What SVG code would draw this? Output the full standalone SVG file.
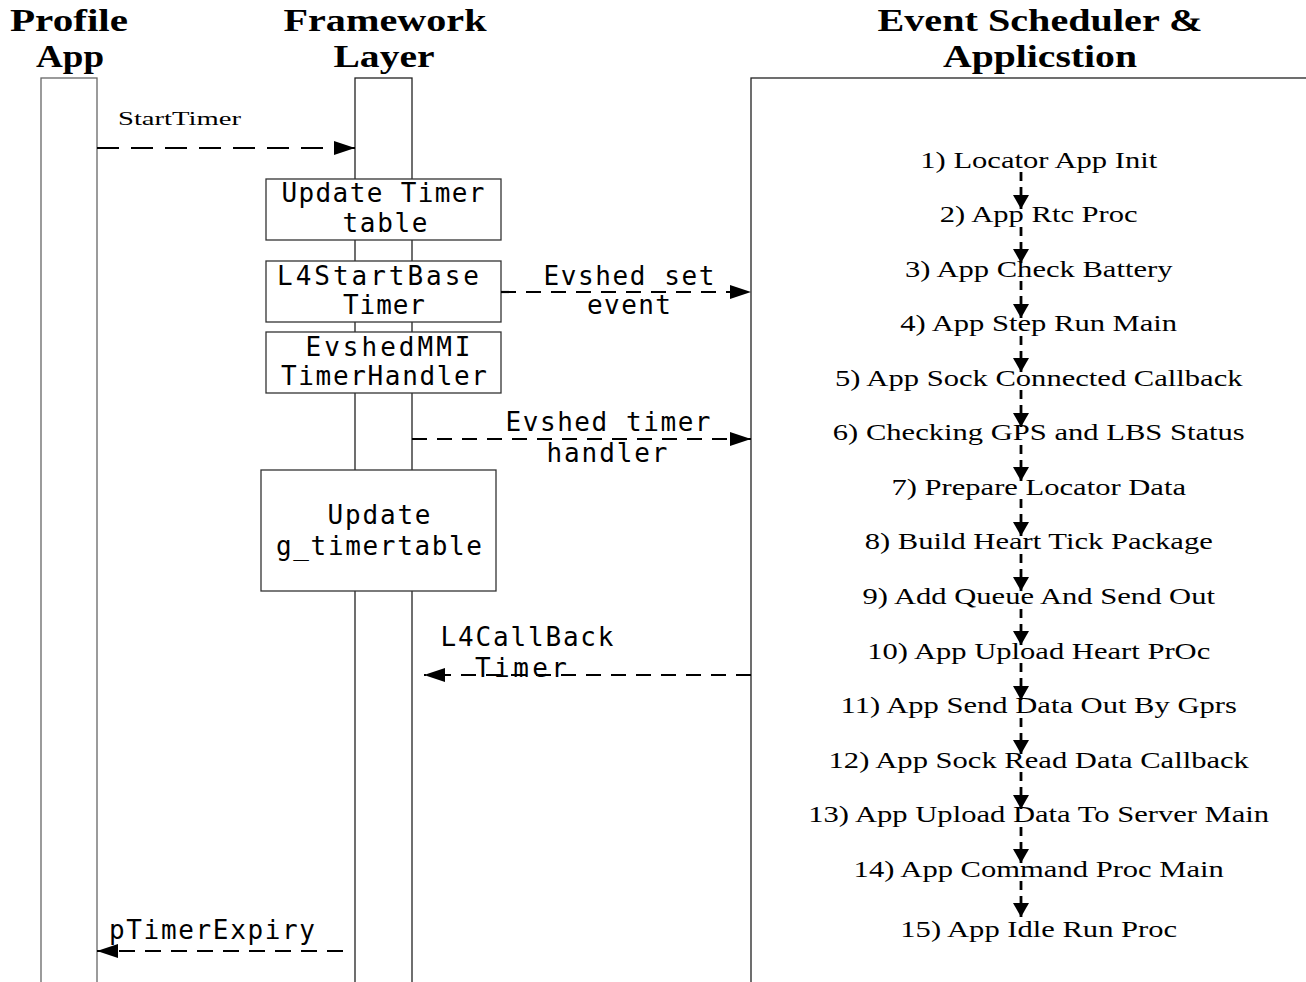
<svg xmlns="http://www.w3.org/2000/svg" width="1306" height="982" viewBox="0 0 1306 982">
<style>
.hdr{font-family:"Liberation Serif","Times New Roman",serif;font-weight:bold;font-size:32px;fill:#000;text-anchor:middle}
.mono{font-family:"DejaVu Sans Mono","Liberation Mono",monospace;font-size:26px;fill:#000;text-anchor:middle}
.ser{font-family:"Liberation Serif","Times New Roman",serif;font-size:23px;fill:#000;text-anchor:middle}
.box{fill:#fff;stroke:#333;stroke-width:1.3}
.life{fill:#fff;stroke:#222;stroke-width:1.3}
.hm{fill:none;stroke:#000;stroke-width:2.2;stroke-dasharray:16 10;marker-end:url(#ah)}
.vm{fill:none;stroke:#000;stroke-width:2.8;stroke-dasharray:9 6;marker-end:url(#av)}
</style>
<defs>
<marker id="ah" markerUnits="userSpaceOnUse" markerWidth="22" markerHeight="16" refX="21" refY="8" orient="auto">
<path d="M0,1 L21,8 L0,15 z" fill="#000"/>
</marker>
<marker id="av" markerUnits="userSpaceOnUse" markerWidth="15" markerHeight="16" refX="14" refY="8" orient="auto">
<path d="M0,0 L14,8 L0,16 z" fill="#000"/>
</marker>
</defs>
<rect x="0" y="0" width="1306" height="982" fill="#fff"/>

<g id="profile-app">
<text class="hdr" x="69" y="31" textLength="118" lengthAdjust="spacingAndGlyphs">Profile</text>
<text class="hdr" x="70" y="67" textLength="68" lengthAdjust="spacingAndGlyphs">App</text>
<rect class="life" x="41" y="78" width="56" height="920" style="stroke:#666"/>
</g>

<g id="framework-layer">
<text class="hdr" x="385" y="31" textLength="203" lengthAdjust="spacingAndGlyphs">Framework</text>
<text class="hdr" x="384" y="67" textLength="101" lengthAdjust="spacingAndGlyphs">Layer</text>
<rect class="life" x="355" y="78" width="57" height="920"/>
</g>

<g id="event-scheduler">
<text class="hdr" x="1040" y="31" textLength="325" lengthAdjust="spacingAndGlyphs">Event Scheduler &amp;</text>
<text class="hdr" x="1040" y="67" textLength="194" lengthAdjust="spacingAndGlyphs">Applicstion</text>
<rect class="life" x="751" y="78" width="570" height="920"/>
</g>

<g id="update-timer-table">
<rect class="box" x="266" y="179" width="235" height="61"/>
<text class="mono" x="383" y="202" textLength="203">Update Timer</text>
<text class="mono" x="385" y="232" textLength="85">table</text>
</g>

<g id="l4startbase-timer">
<rect class="box" x="266" y="261" width="235" height="61"/>
<text class="mono" x="378" y="285" textLength="202">L4StartBase</text>
<text class="mono" x="384" y="314" textLength="82">Timer</text>
</g>

<g id="evshedmmi-timerhandler">
<rect class="box" x="266" y="332" width="235" height="61"/>
<text class="mono" x="388" y="356" textLength="165">EvshedMMI</text>
<text class="mono" x="384" y="385" textLength="206">TimerHandler</text>
</g>

<g id="update-g-timertable">
<rect class="box" x="261" y="470" width="235" height="121"/>
<text class="mono" x="379" y="524" textLength="103">Update</text>
<text class="mono" x="379" y="555" textLength="206">g_timertable</text>
</g>

<g id="steps" transform="scale(1.33,1)">
<text class="ser" x="781" y="168">1) Locator App Init</text>
<text class="ser" x="781" y="222">2) App Rtc Proc</text>
<text class="ser" x="781" y="277">3) App Check Battery</text>
<text class="ser" x="781" y="331">4) App Step Run Main</text>
<text class="ser" x="781" y="386">5) App Sock Connected Callback</text>
<text class="ser" x="781" y="440">6) Checking GPS and LBS Status</text>
<text class="ser" x="781" y="495">7) Prepare Locator Data</text>
<text class="ser" x="781" y="549">8) Build Heart Tick Package</text>
<text class="ser" x="781" y="604">9) Add Queue And Send Out</text>
<text class="ser" x="781" y="659">10) App Upload Heart PrOc</text>
<text class="ser" x="781" y="713">11) App Send Data Out By Gprs</text>
<text class="ser" x="781" y="768">12) App Sock Read Data Callback</text>
<text class="ser" x="781" y="822">13) App Upload Data To Server Main</text>
<text class="ser" x="781" y="877">14) App Command Proc Main</text>
<text class="ser" x="781" y="937">15) App Idle Run Proc</text>
</g>

<g id="connectors">
<path class="hm" d="M97,148 H355" style="stroke-dasharray:22 12"/>
<text x="118" y="125" style="font-family:'Liberation Serif','Times New Roman',serif;font-size:19px" textLength="123" lengthAdjust="spacingAndGlyphs">StartTimer</text>

<path class="hm" d="M501,292 H751" style="stroke-dasharray:15 10"/>
<text class="mono" x="629" y="285" textLength="171">Evshed set</text>
<text class="mono" x="629" y="314" textLength="84">event</text>

<path class="hm" d="M412,439 H751" style="stroke-dasharray:15 10"/>
<text class="mono" x="608" y="431" textLength="205">Evshed timer</text>
<text class="mono" x="607" y="462" textLength="121">handler</text>

<path class="hm" d="M751,675 H424" style="stroke-dasharray:15 10"/>
<text class="mono" x="527" y="646" textLength="173">L4CallBack</text>
<text class="mono" x="521" y="677" textLength="92">Timer</text>

<path class="hm" d="M343,951 H97" style="stroke-dasharray:16 10"/>
<text class="mono" x="212" y="939" textLength="206">pTimerExpiry</text>

<path class="vm" d="M1021,172 V209"/>
<path class="vm" d="M1021,227 V263"/>
<path class="vm" d="M1021,281 V318"/>
<path class="vm" d="M1021,336 V372"/>
<path class="vm" d="M1021,390 V427"/>
<path class="vm" d="M1021,445 V481"/>
<path class="vm" d="M1021,499 V536"/>
<path class="vm" d="M1021,554 V591"/>
<path class="vm" d="M1021,609 V645"/>
<path class="vm" d="M1021,663 V700"/>
<path class="vm" d="M1021,718 V754"/>
<path class="vm" d="M1021,772 V809"/>
<path class="vm" d="M1021,827 V863"/>
<path class="vm" d="M1021,881 V917"/>
</g>
</svg>
